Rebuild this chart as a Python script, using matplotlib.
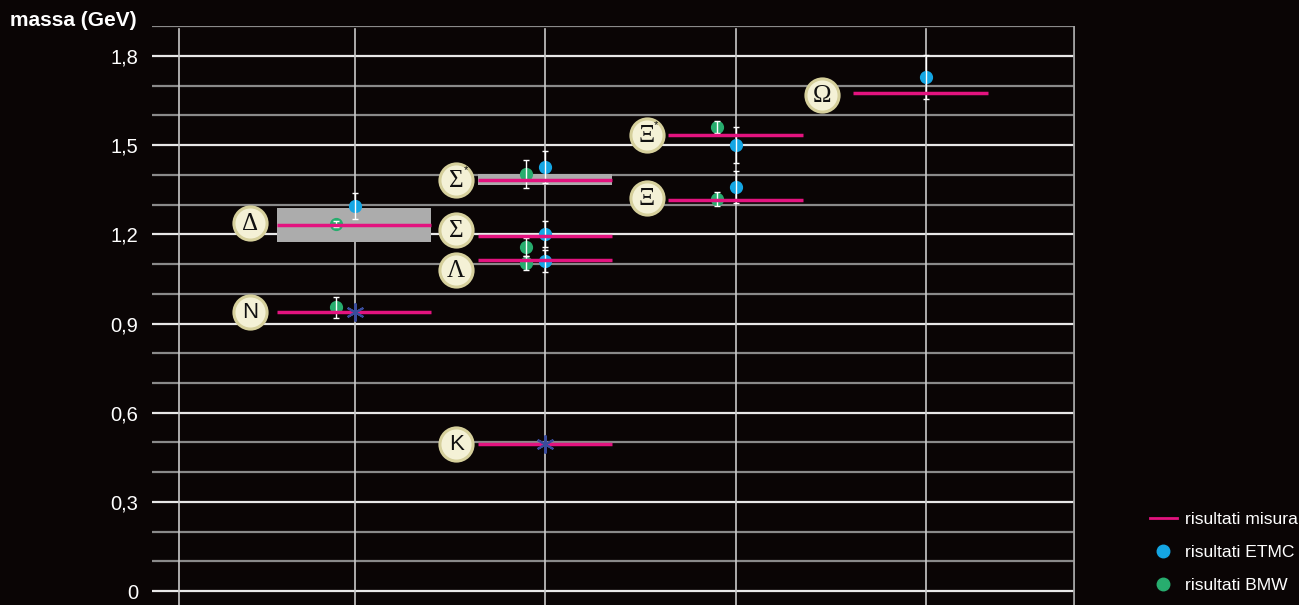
import matplotlib.pyplot as plt
from matplotlib.lines import Line2D
import numpy as np

# particelle, colonna e valore misurato (GeV)
particelle = ["N", "Δ", "Λ", "Σ", "Σ*", "Ξ", "Ξ*", "Ω", "K"]
colonna = [1, 1, 2, 2, 2, 3, 3, 4, 2]
misura = [0.939, 1.232, 1.114, 1.194, 1.383, 1.316, 1.534, 1.676, 0.495]
riga_sx = [0.59, 0.59, 1.648, 1.648, 1.648, 2.643, 2.643, 3.616, 1.648]
riga_dx = [1.40, 1.40, 2.352, 2.352, 2.352, 3.352, 3.352, 4.326, 2.352]

# bande di larghezza (Δ e Σ*)
banda_nomi = ["Δ", "Σ*"]
banda_basso = [1.174, 1.366]
banda_alto = [1.289, 1.403]

# risultati ETMC
etmc_nomi = ["Δ", "Λ", "Σ", "Σ*", "Ξ", "Ξ*", "Ω"]
etmc_val = [1.295, 1.110, 1.201, 1.427, 1.359, 1.501, 1.729]
etmc_err = [0.045, 0.037, 0.044, 0.053, 0.055, 0.060, 0.074]

# risultati BMW
bmw_nomi = ["N", "Δ", "Λ", "Σ", "Σ*", "Ξ", "Ξ*"]
bmw_val = [0.955, 1.235, 1.104, 1.157, 1.403, 1.319, 1.561]
bmw_err = [0.035, 0.010, 0.024, 0.030, 0.047, 0.022, 0.020]

# valori usati come input (asterischi)
input_nomi = ["N", "K"]
input_val = [0.939, 0.495]

# etichette nei cerchi
etichetta_x = [0.448, 0.448, 1.532, 1.532, 1.532, 2.532, 2.532, 3.453, 1.532]
etichetta_y = [0.939, 1.239, 1.081, 1.214, 1.383, 1.323, 1.534, 1.669, 0.495]

sfondo = "#0a0505"
magenta = "#e3137f"
blu = "#14a6e4"
verde = "#27ad6e"

plt.rcParams["font.family"] = ["Liberation Sans", "DejaVu Sans"]

fig = plt.figure(figsize=(12.99, 6.05), dpi=100, facecolor=sfondo)
ax = fig.add_axes([152 / 1299, 0, (1075 - 152) / 1299, (605 - 26) / 605])
ax.set_facecolor(sfondo)
ax.set_xlim(-0.0667, 4.783)
ax.set_ylim(-0.047, 1.901)

# griglia
for v in np.arange(0, 1.95, 0.1):
    maggiore = abs(v / 0.3 - round(v / 0.3)) < 1e-6
    ax.axhline(v, color="#e8e8e8" if maggiore else "#8a8a8a", lw=1.6, zorder=1)
for xv in [0.075, 1, 2, 3, 4]:
    ax.axvline(xv, ymax=0.995, color="#c8c8c8", lw=1.2, zorder=1)
ax.axvline(4.78, color="#a0a0a0", lw=2, zorder=1)

pos = {p: i for i, p in enumerate(particelle)}

# bande grigie
for nome, b, a in zip(banda_nomi, banda_basso, banda_alto):
    i = pos[nome]
    ax.fill_between([riga_sx[i], riga_dx[i]], b, a, color="#acacac", zorder=2, lw=0)

# punti ETMC
ex = [colonna[pos[n]] for n in etmc_nomi]
ax.plot(ex, etmc_val, "o", color=blu, ms=8.5, zorder=3)
ax.errorbar(ex, etmc_val, yerr=etmc_err, fmt="none", ecolor="white", elinewidth=1,
            capsize=2.5, capthick=1, zorder=4)

# punti BMW
bx = [colonna[pos[n]] - 0.1 for n in bmw_nomi]
ax.plot(bx, bmw_val, "o", color=verde, ms=8.5, zorder=3)
ax.errorbar(bx, bmw_val, yerr=bmw_err, fmt="none", ecolor="white", elinewidth=1,
            capsize=2.5, capthick=1, zorder=4)

# linee delle misure
for i in range(len(particelle)):
    ax.plot([riga_sx[i], riga_dx[i]], [misura[i], misura[i]], color=magenta, lw=2.5,
            solid_capstyle="butt", zorder=5)

# asterischi
ix = [colonna[pos[n]] for n in input_nomi]
ax.plot(ix, input_val, marker=(6, 2, 0), ls="none", color="#3a4c9c", ms=13, mew=1.5, zorder=6)

# cerchi con i nomi
ax.scatter(etichetta_x, etichetta_y, s=680, color="#d6d09c", zorder=7, lw=0)
ax.scatter(etichetta_x, etichetta_y, s=470, color="#f4f1d6", zorder=7, lw=0)
for p, x, y in zip(particelle, etichetta_x, etichetta_y):
    base = p.rstrip("*")
    if base in ("N", "K"):
        ax.text(x, y - 0.003, base, ha="center", va="center", fontsize=16, color="#111111",
                family=["Liberation Sans"], zorder=8)
    else:
        ax.text(x, y - 0.003, base, ha="center", va="center", fontsize=18, color="#111111",
                family=["Liberation Serif", "DejaVu Serif"], zorder=8)
    if p.endswith("*"):
        ax.text(x + 0.05, y + 0.033, "*", ha="center", va="center", fontsize=8,
                color="#111111", zorder=8)

# asse y
ax.set_yticks([0, 0.3, 0.6, 0.9, 1.2, 1.5, 1.8])
ax.set_yticklabels(["0", "0,3", "0,6", "0,9", "1,2", "1,5", "1,8"])
ax.tick_params(axis="y", length=0, pad=10, labelsize=14.5, labelcolor="white")
ax.set_xticks([])
for s in ax.spines.values():
    s.set_visible(False)

fig.text(10 / 1299, 1 - 21 / 605, "massa (GeV)", color="white", fontsize=15,
         fontweight="bold", va="center", ha="left")

# legenda
maniglie = [
    Line2D([], [], color=magenta, lw=2),
    Line2D([], [], marker="o", ls="none", color=blu, ms=9),
    Line2D([], [], marker="o", ls="none", color=verde, ms=9),
]
leg = fig.legend(maniglie, ["risultati misura", "risultati ETMC", "risultati BMW"],
                 loc="lower left", bbox_to_anchor=(1138 / 1299, 0.0), frameon=False,
                 fontsize=12.6, labelcolor="white", handlelength=1.5, handletextpad=0.5,
                 labelspacing=1.0, borderaxespad=0.3)

fig.savefig("out.png", dpi=100, facecolor=sfondo)
